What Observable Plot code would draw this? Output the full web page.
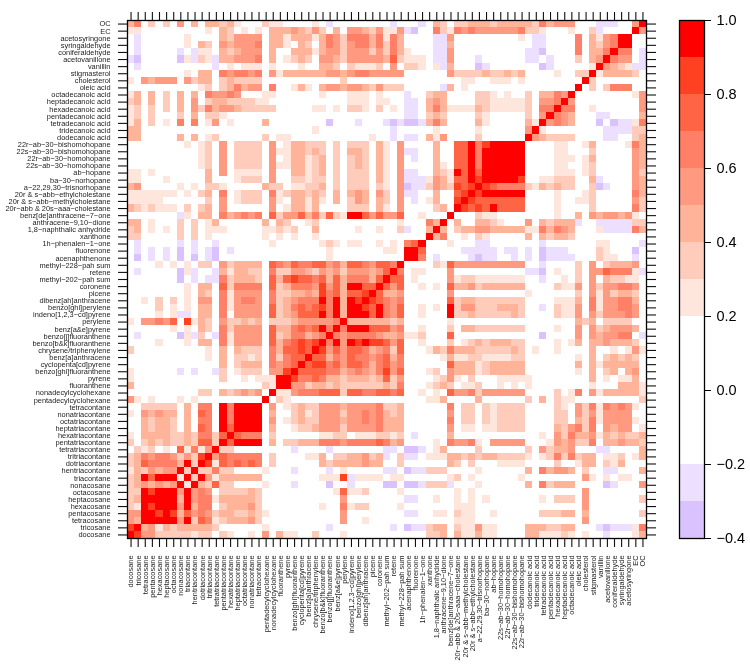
<!DOCTYPE html>
<html><head><meta charset="utf-8">
<script src="https://cdn.jsdelivr.net/npm/d3@7"></script>
<script src="https://cdn.jsdelivr.net/npm/@observablehq/plot@0.6"></script>
<style>html,body{margin:0;padding:0;background:#fff}#c{position:relative;width:750px;height:668px}#c svg{position:absolute;left:0;top:0;will-change:transform}</style>
</head><body><div id="c"></div>
<script>
const labels=["docosane","tricosane","tetracosane","pentacosane","hexacosane","heptacosane","octacosane","nonacosane","triacontane","hentriacontane","dotriacontane","tritriacontane","tetratriacontane","pentatriacontane","hexatriacontane","heptatriacontane","octatriacontane","nonatriacontane","tetracontane","pentadecylcyclohexane","nonadecylcyclohexane","fluoranthene","pyrene","benzo[ghi]fluoranthene","cyclopenta[cd]pyrene","benz[a]anthracene","chrysene/triphenylene","benzo[b&k]fluoranthene","benzo[j]fluoranthene","benz[a&e]pyrene","perylene","indeno[1,2,3-cd]pyrene","benzo[ghi]perylene","dibenz[ah]anthracene","picene","coronene","methyl-202-pah sum","retene","methyl-228-pah sum","acenaphthenone","fluorenone","1h-phenalen-1-one","xanthone","1,8-naphthalic anhydride","anthracene-9,10-dione","benz[de]anthracene-7-one","20r-abb & 20s-aaa-cholestane","20r & s-abb-methylcholestane","20r & s-abb-ethylcholestane","a-22,29,30-trisnorhopane","ba-30-norhopane","ab-hopane","22s-ab-30-homohopane","22r-ab-30-homohopane","22s-ab-30-bishomohopane","22r-ab-30-bishomohopane","dodecanoic acid","tridecanoic acid","tetradecanoic acid","pentadecanoic acid","hexadecanoic acid","heptadecanoic acid","octadecanoic acid","oleic acid","cholesterol","stigmasterol","vanillin","acetovanillone","coniferaldehyde","syringaldehyde","acetosyringone","EC","OC"];
// correlation class per cell, lower triangle: . = |r|<0.2, a = -0.2..-0.3, b = -0.3..-0.4, 1..8 = 0.2-0.3 ... 0.9-1.0
const rows=[
"8",
"78",
"438",
"4488",
"21878",
"238888",
"2287888",
"23434348",
"238688818",
"1324344828",
"23655553828",
"235455424278",
". 2 1 2 . 1 . 6 1 5 1 4 8",
"2 . 2 3 2 3 2 2 3 2 6 6 2 8",
"1 . 3 3 3 3 2 2 3 2 5 5 2 6 8",
". . 3 2 3 3 2 . 3 . 6 5 . 8 6 8",
". . 3 2 3 3 2 . 3 . 5 5 . 8 5 8 8",
"1 . 4 3 4 3 3 . 3 . 6 5 . 8 5 8 8 8",
". . 2 2 2 2 2 . 3 . 5 5 . 8 5 8 8 8 8",
"4 1 . 1 . . . 1 . 1 . . . . . . . . . 8",
". . . . . . . . . . 2 2 . 3 2 3 4 3 4 . 8",
"3 . . . . . . . . . . . . . . . . . . 2 1 8",
"1 . . . . . . . . . . . . 2 . . 1 . 1 1 1 8 8",
"1 . . . . . . a . a . . a 2 . 1 2 2 2 . 4 4 7 8",
". . . . . . . . . . . . . 3 . 2 3 3 3 . 5 4 5 6 8",
". . . . . . . . . . . 1 . 3 . 2 2 1 2 . 5 2 5 6 6 8",
"2 . . . . . . . . . . 1 . 3 . 3 2 2 2 . 5 3 6 6 7 6 8",
". . . . 1 . . . 1 . 3 3 . 5 1 4 4 4 4 . 6 3 5 6 7 6 7 8",
". a . . . . . b 1 a 2 . a 5 1 4 4 4 4 . 6 2 3 5 5 3 4 5 8",
". . . . . . 1 . 1 . 3 2 . 5 2 4 4 4 4 . 6 3 3 5 6 5 6 8 5 8",
"1 . 4 4 5 4 6 . 7 1 3 2 . 4 2 2 3 2 3 . 2 2 2 3 4 4 4 4 4 5 8",
". . . . 1 . 1 a a . 3 3 . 5 . 4 4 4 4 . 6 2 3 4 6 6 6 8 5 8 3 8",
". . . . 2 . 1 . 1 . 3 3 . 5 1 4 4 4 4 . 6 2 3 5 6 5 6 7 5 8 3 8 8",
". . 1 . 2 . 2 . 1 . 4 4 . 5 1 4 5 5 4 . 5 2 3 4 5 5 5 8 5 8 3 8 7 8",
". . . . . . . . 1 . 3 2 . 5 1 4 4 4 4 . 5 2 2 3 3 4 3 7 5 6 3 6 6 7 8",
". . . . . . . . 1 . 3 3 . 6 2 5 5 5 5 . 6 2 3 5 5 5 4 7 4 6 3 8 8 6 6 8",
". . . . . . . b . a . a a 5 2 3 3 3 2 . 6 3 6 7 6 6 5 6 3 6 3 5 5 5 3 6 8",
". a . . . . . b 1 a . . a 3 1 3 3 2 2 . 5 2 2 4 4 3 2 4 3 4 2 4 4 4 3 4 6 8",
". . . . 1 . 1 . 1 . 2 2 . 4 2 3 3 3 3 . 6 5 4 6 5 5 6 6 4 5 3 6 6 5 4 6 6 5 8",
". b . a . a . b . b . a b . . . . . . . . . . . . . . . 1 . . . . . . . . . . 8",
". a . a . a . b . a . a b . a . . . . . . . . . . . . . 1 . . . . . . . 1 1 . 8 8",
". a . . . . . a . a . . a . . . . . . . 1 . . . . . . 1 2 1 . 1 1 . . 1 . 1 . 5 6 8",
"2 2 . . . . . 2 . 2 . 1 . . . . . . . 1 . 1 . 1 . . 1 . . . . . . . . . . . . . . . 8",
"2 3 . 1 . 1 . 2 . 2 . 1 1 1 . . . . . 1 1 2 1 2 . . 3 . . . . . 1 . . 1 . . 2 a . . 3 8",
"3 3 . 1 . . . 2 . 2 . 1 3 . . . . . . 3 . 3 2 . . 1 2 . . . . . . . . . . . 1 . . . 5 3 8",
". . . . . . . a 1 . 3 3 . 5 3 4 5 4 5 . 6 2 4 4 6 3 5 2 6 2 1 8 8 6 4 6 4 4 6 . . 1 . . . 8",
"3 2 1 2 1 1 1 . 2 . 2 3 . 4 . . . . . . 4 . 1 3 3 1 3 . . . . 2 2 2 . 3 1 . 4 . . . . 2 3 . 8",
"1 1 1 1 1 . . . . . . 2 . 4 . 1 2 2 2 . 4 1 . 3 3 1 3 1 . 3 . 2 4 3 . 3 2 . 4 . a . 1 3 . . 7 8",
"1 1 1 1 1 1 1 . 1 . 2 3 . 5 . 1 2 2 2 . 5 1 2 3 3 2 3 2 . 3 . 3 4 3 . 4 2 . 4 a a . . 3 . . 6 7 8",
"3 4 . . . . . 1 . 1 . 2 2 1 . . . . . 3 2 2 . 1 1 2 2 3 . 2 . 2 2 2 . 2 1 . 4 b a a 2 4 3 2 7 6 7 8",
"1 1 . . . 1 . . . . . 3 . . . 1 2 2 2 . 4 . . 2 2 1 2 2 . 2 . 2 2 2 . 3 1 . 4 a a a 1 4 3 1 6 6 8 7 8",
"1 1 . 1 . . . . . . . 3 . 4 . 1 1 1 1 . 4 . . 3 3 1 2 3 . 2 . 2 2 2 . 3 1 . 4 a a . . 3 2 1 8 6 8 6 8 8",
". . . . . . . . . . 1 2 . 4 . 2 2 2 2 . 4 1 1 3 3 1 2 3 . 2 . 2 3 2 . 3 1 . 4 . . . . 3 1 . 6 6 8 5 8 8 8",
". . . . . . . . . . 1 2 . 4 . 2 2 2 2 . 4 . 1 3 3 1 2 3 . 2 . 2 3 2 . 3 1 . 4 . a . . 3 . . 6 6 8 5 8 8 8 8",
". . . . . . . . . . 1 2 . 4 . 2 2 2 2 . 4 1 1 3 3 2 3 2 . 2 . 3 3 2 . 3 1 . 4 a a . . 3 . . 6 6 8 5 8 8 8 8 8",
". . . . . . . . 1 . 1 2 . 4 . 2 2 2 2 . 4 . 1 3 3 2 2 2 . 2 . 2 2 2 . 3 1 . 4 . . . . 3 . . 6 6 8 5 7 8 8 8 8 8",
"3 3 . . . . . 3 . 3 . 1 2 . . . . . . 2 . 1 1 . . . . . . . . . . . 1 . . a . a a . 3 1 4 . . . . 2 . . . . . . 8",
"3 3 . . . . . . . . . . . . . . . . . . . . . . . . 1 . . . . . . . . . . a . . . . . 1 . . . . . 1 . . . . . . 4 8",
"1 3 . 2 . 1 . 5 . 5 . 1 4 . 1 . . . . 3 . . . . . . . . b . . . a . . . a b a b b a 3 5 3 . . . . 3 1 . . . . . 3 1 8",
"1 2 . 2 . . . 2 . 3 . 2 2 1 . . . . . . . . . . . . . . . . . . . . . . . . . a a . 2 3 2 . . . . 2 1 . . . . . 2 . 4 8",
"1 2 . 2 . 2 . 3 . 4 2 5 3 4 4 3 2 2 2 2 2 . . . . . 1 1 . 1 . 2 2 1 . 2 . 1 . a a . 3 5 3 1 1 1 1 3 2 1 1 1 1 1 2 . 5 5 8",
"2 3 . 3 . 2 . 3 . 4 . 2 3 3 2 2 2 2 1 1 . . . . . . . . . . . 1 1 1 . 1 1 . . a a . 3 4 3 . . . . 2 2 1 1 1 1 1 2 . 4 4 5 8",
"1 3 . 3 . 2 . 3 . 3 . 5 4 4 5 4 . . . 1 1 . . . . . . 1 . . . 1 1 1 . 1 . . . a . . 2 3 3 . . . . 2 2 1 . 1 . . 2 . 3 3 5 4 8",
". . . . . . . . . . 1 2 . 2 3 5 3 4 4 . 5 . . 1 3 1 . 3 4 4 3 4 4 3 2 4 2 2 2 . . . . . a 3 . 1 . . . . . . . . . . . . . . . 8",
"1 . 4 3 4 4 4 . 4 2 3 3 . 2 3 2 2 2 2 . . . . . . . . . . . 2 . . . . . . . . . . . . . . . . 1 1 . . 1 1 1 . 1 . . . . . . . . 8",
". . . . . . . . 1 . 3 3 . 5 4 5 5 4 5 . 4 1 3 3 3 3 3 3 4 4 3 4 5 5 4 4 4 4 4 . . . . . . 4 2 2 2 2 3 2 2 3 2 3 . . . . 1 . . 2 2 8",
". a . . . . . . . . . . a . 1 . 1 1 1 . 1 . . . 1 . . 3 3 2 . 2 1 1 1 2 . 4 . 2 2 1 . 1 a 3 . . . b a . . . . . . . b a . . . . . 1 8",
"a b . . . . . b 1 a 2 1 a 3 3 4 4 4 5 . 3 . 1 2 3 2 . 4 4 3 2 4 4 4 4 4 3 6 2 1 1 1 . a a 4 . . . a . . . . . . a a . a . . . 2 . 3 4 8",
". a . . . . . a . a 1 1 . 3 2 3 4 4 4 . 3 . . 3 3 3 1 3 4 4 2 4 4 4 2 4 2 5 3 1 . . . a a 4 . . . . . . . . . . a a b . . . . 5 . 3 3 5 8",
". a . . . . . . 1 . 3 2 . 4 3 4 4 4 5 . 3 3 1 . 3 2 . 3 5 4 2 4 5 5 3 5 2 5 3 . . . . a a 3 . . . . . . . . . . . a a . . . . 5 . 3 2 4 5 8",
". a . . . . . . 1 . . . . 3 2 4 4 4 4 . 3 3 1 3 3 3 1 3 5 4 2 5 5 5 3 5 1 5 3 . . . . a a 4 . . . . . . . . . 1 . a a . . . . 5 . 3 1 4 5 8 8",
"1 1 . . . . . . . . . 1 . 3 2 . 1 . 1 . 3 3 3 4 3 2 4 2 . 3 . 4 4 3 2 4 1 1 4 a b . . 5 2 1 5 4 5 4 4 4 4 4 4 5 2 2 1 . . . 1 . . 2 a . . . . 8",
"3 5 . 2 . 2 . 4 . 3 . 3 3 2 3 1 . . . 2 1 1 . . . . 1 . a . . . . . . . . a . . . a . 3 2 . 2 2 3 3 3 2 3 3 3 3 3 2 5 3 4 4 4 . . . a a a . . 4 8"
];
const levels={".":0,"a":-0.25,"b":-0.35,"1":0.25,"2":0.35,"3":0.45,"4":0.55,"5":0.65,"6":0.75,"7":0.85,"8":0.95};
const thresholds=[-0.3,-0.2,0.2,0.3,0.4,0.5,0.6,0.7,0.8,0.9];
const palette=["#d9c2ff","#ecdfff","#ffffff","#ffe6dd","#ffccbb","#ffb399","#ff9980","#ff8066","#ff6444","#ff4122","#ff0000"];
const bands=[-0.4,-0.3,-0.2,0.2,0.3,0.4,0.5,0.6,0.7,0.8,0.9,1.0];
const barTicks=[-0.4,-0.2,0,0.2,0.4,0.6,0.8,1.0];
const cells=[];
rows.forEach((r,i)=>{[...r.replace(/\s/g,"")].forEach((c,j)=>{
  cells.push({a:labels[j],b:labels[i],v:levels[c]});
  if(i!==j)cells.push({a:labels[i],b:labels[j],v:levels[c]});
});});
const fam="'Liberation Sans',Arial,sans-serif";
const minus=s=>s.replace(/-/g,"\u2212");
const none=()=>"";
const tick={stroke:"#111",strokeWidth:1.1,strokeOpacity:1};
const main=Plot.plot({
  width:750,height:668,marginLeft:127,marginRight:104,marginTop:20,marginBottom:130,
  style:{fontFamily:fam,background:"transparent"},
  x:{type:"band",domain:labels,padding:0,round:false,label:null},
  y:{type:"band",domain:[...labels].reverse(),padding:0,round:false,label:null},
  color:{type:"threshold",domain:thresholds,range:palette},
  marks:[
    Plot.cell(cells,{x:"a",y:"b",fill:"v",shapeRendering:"crispEdges"}),
    Plot.axisX({anchor:"bottom",label:null,tickSize:9,tickPadding:8,tickRotate:-90,fontSize:7.4,tickFormat:minus,...tick,fill:"#222"}),
    Plot.axisX({anchor:"top",label:null,tickSize:9,tickFormat:none,...tick}),
    Plot.axisY({anchor:"left",label:null,tickSize:9,tickPadding:8,fontSize:7.4,tickFormat:minus,...tick,fill:"#222"}),
    Plot.axisY({anchor:"right",label:null,tickSize:9,tickFormat:none,...tick}),
    Plot.frame({stroke:"#000",strokeWidth:1.3})
  ]
});
const bar=Plot.plot({
  width:750,height:668,marginLeft:679,marginRight:46,marginTop:20,marginBottom:130,
  style:{fontFamily:fam,background:"transparent"},
  x:{domain:[0,1],axis:null},
  y:{domain:[-0.4,1],label:null},
  color:{type:"threshold",domain:thresholds,range:palette},
  marks:[
    Plot.rectY(d3.pairs(bands),{x1:0,x2:1,y1:d=>d[0],y2:d=>d[1],fill:d=>(d[0]+d[1])/2}),
    Plot.axisY({anchor:"right",label:null,ticks:barTicks,tickSize:6,tickPadding:6,fontSize:14.5,tickFormat:d=>d3.format(".1f")(d).replace("-","\u2212"),stroke:"#000",fill:"#000"}),
    Plot.frame({stroke:"#000",strokeWidth:1.3})
  ]
});
document.getElementById("c").append(main,bar);
</script></body></html>
